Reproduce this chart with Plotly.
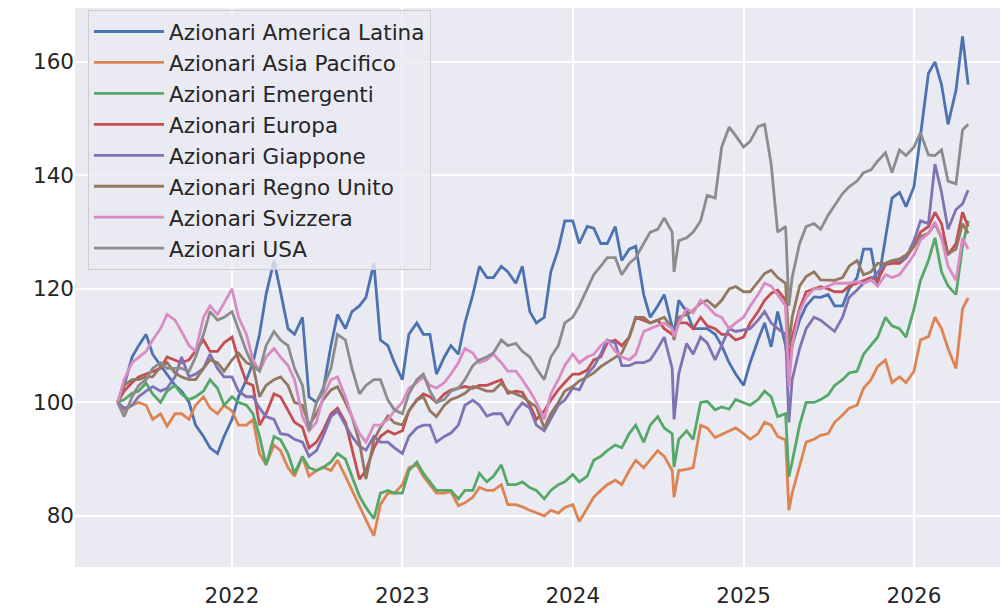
import pandas as pd
import plotly.graph_objects as go

# semi-monthly observation dates (+ two crash days and the last observation)
dates = sorted(
    list(pd.date_range("2021-05-01", "2026-04-15", freq="SMS"))
    + [pd.Timestamp("2024-08-05"), pd.Timestamp("2025-04-08"), pd.Timestamp("2026-04-27")]
)

latam = [
    100, 103, 108, 110, 112, 108.5, 106.5, 105, 103, 102, 100, 96, 94, 92, 91, 94,
    97, 101, 104, 107, 112, 119, 125, 119.5, 113, 112, 115, 101, 100, 102, 110, 115.5, 113, 116, 117, 118.5, 124.5, 111, 110, 107,
    104, 112, 114, 112, 112, 105, 108, 110, 108.5, 114, 119, 124, 122, 122, 124, 123, 121, 124, 116, 114, 115, 123, 127, 132,
    132, 128, 131, 130.7, 128, 128, 131, 125, 127, 127.5, 119, 115, 117, 119, 113, 112, 118, 116, 113, 113, 113, 112, 110, 107, 105,
    103, 107, 111, 114, 109.8, 116, 110, 105, 110, 114.5, 117, 118.6, 118.5, 119, 117, 117, 120, 122, 127, 127, 120.5, 129, 136, 137, 134.5,
    138, 147, 158, 160, 156, 149, 155, 164.5, 156,
]
asia = [
    100, 98.5, 99.5, 100, 99.5, 97, 98, 95.8, 98, 98, 97, 99.5, 101, 99, 98, 99.5,
    98.5, 96, 96, 97, 91, 89, 92.5, 91.5, 88.5, 87, 90.4, 87, 88, 88.6, 88, 89.8, 87, 84.5, 81.5, 79.3, 76.5, 82, 84, 84,
    85.5, 88.5, 89, 87, 85.5, 84, 84, 84.3, 81.8, 82.3, 83.3, 85, 84.5, 84.5, 85.5, 82, 82, 81.6, 81, 80.5, 80, 81, 80.5, 81.5,
    82, 79, 81.5, 83.3, 84.5, 85.5, 86.3, 85.5, 88, 89.8, 88.5, 90, 91.5, 90.5, 88, 83.3, 88, 88.2, 88.5, 96, 95.5, 93.8, 94.3, 95, 95.5,
    94.5, 93.5, 94.5, 96.5, 96, 94, 93.4, 81, 84, 89, 93, 93.5, 94.2, 94.5, 96.5, 97.8, 99, 99.5, 102.5, 104, 106.3, 107.5, 103.5, 104.5, 103.5,
    105.5, 111, 111.6, 115, 113, 109.5, 106, 116.5, 118.4,
]
emerging = [
    100, 100.5, 101.6, 102, 103.4, 101.5, 100, 102, 103, 101.5, 100.5, 101, 102, 104, 102.5, 99.5,
    101, 100, 99.5, 98, 94, 89, 94, 93.4, 91, 87.5, 90.5, 88.5, 88, 88.5, 89.5, 91, 90, 87, 83.5, 81.5, 79.5, 84, 84.5, 84,
    84, 88, 89.5, 87.5, 86, 84.5, 84.5, 84.5, 83, 84.5, 84.5, 87.5, 86, 87, 89, 85.5, 85.5, 86, 85, 84.5, 83, 84.5, 85.5, 86,
    87.3, 86, 87, 89.8, 90.5, 91.5, 92.5, 92, 94.5, 96, 93, 96, 97.5, 95.5, 94.5, 88.6, 93.5, 95, 93.5, 100, 100.2, 98.7, 99.2, 98.8, 100.5,
    100, 99.5, 100.5, 102, 101, 97.5, 98, 86.9, 89.5, 96, 100, 100, 100.5, 101.3, 103, 104, 105.2, 105.5, 108.5, 110, 111.5, 115, 113.5, 113, 111.5,
    116.5, 121.5, 125, 129, 123, 120.5, 119, 127.5, 132,
]
europe = [
    100, 102, 103.5, 104.5, 105, 105.5, 106, 108, 107.5, 107, 107.5, 109, 111, 109, 109, 110.5,
    111.5, 107.5, 103.5, 103, 96, 98, 101.5, 101, 98.5, 96.5, 95.6, 92, 93, 95, 98, 99, 96.5, 92, 86.5, 88, 92, 94, 95, 94.4,
    95, 98.5, 100.5, 101.5, 101, 100, 101.5, 102.2, 102.5, 102.8, 102.5, 103, 103, 103.5, 104, 101.6, 102, 101.8, 99.5, 97, 98.5, 100.4, 102.2, 103.5,
    105, 105, 105.7, 107.5, 108, 110.5, 111, 110, 111.5, 115, 114.5, 114, 114.5, 113, 112, 111.6, 114, 114, 113, 115, 113.5, 113, 112, 112, 111,
    111.5, 114, 116, 118, 119.2, 119.8, 118, 106.3, 111.5, 116.5, 119.5, 120, 120.4, 120, 119.5, 119.5, 120.5, 121, 121.5, 122, 121.5, 124.3, 124.5, 124.5, 125.5,
    127.5, 130, 131, 133.5, 131.5, 126, 128, 133.5, 131,
]
japan = [
    100, 99, 99.5, 101, 102, 102.8, 102, 102.5, 104.5, 108, 104.5, 105, 106, 108.5, 106, 104.5,
    104.5, 102, 101, 101, 99, 97.5, 97, 94.5, 94.3, 93.5, 93, 90.5, 91.5, 94, 97.5, 98.5, 96, 94, 92.3, 91.6, 94, 93, 93, 92,
    91, 94, 95.5, 96, 96, 93, 94, 94.6, 96, 99.5, 100.4, 99.5, 97.6, 98, 98, 96, 98.5, 99.9, 99, 96, 95, 97, 99.5, 100.4,
    102.5, 102.2, 105, 106.3, 108.5, 111, 110.5, 106.5, 106.5, 107, 107, 107.5, 109.5, 111.5, 106, 97, 105, 110.4, 108.5, 111.5, 110.5, 107.5, 110, 113, 112.5,
    112.8, 113, 114.5, 116, 114, 113, 112, 96.5, 104, 109.5, 113, 115, 114.5, 113.5, 112.5, 115, 118.5, 119.8, 121, 121.6, 123, 124.5, 125, 125, 125.5,
    128.5, 132, 131.5, 142, 137, 130.5, 134, 135, 137.4,
]
uk = [
    100, 103, 104, 104, 104.5, 104.5, 106.3, 107, 105.2, 104.5, 104, 104, 106, 107.5, 107, 105.5,
    107.5, 108.7, 107, 106.5, 101, 103, 104, 104.5, 103, 100, 99.5, 96, 98, 100.4, 102.2, 102.8, 100, 97.5, 93, 86.5, 93.4, 95.6, 97.6, 96.4,
    96, 98.5, 100.4, 101, 98.5, 97.5, 99.5, 100.5, 101, 101.6, 102.8, 102.5, 102, 102, 103.4, 102, 101.5, 101, 100, 99.2, 95.5, 98, 100, 102,
    102.8, 103.8, 104.5, 105.2, 106.3, 107, 108, 108.7, 111.5, 115, 115, 114, 114.5, 115, 113, 111, 115, 115.5, 116.2, 117.5, 118, 116.8, 118, 120, 120.4,
    119.5, 119.5, 121.3, 122.7, 123.3, 122, 121, 110, 115, 120.5, 122.2, 123, 121.6, 121.5, 121.5, 122, 124, 125, 122.5, 123, 124.5, 124.5, 125, 125.3, 126,
    127.5, 129.2, 129.8, 131.5, 129, 126.2, 127, 131.5, 129.8,
]
swiss = [
    100, 104, 107, 108, 109, 111, 113, 115.5, 114.5, 112.5, 110, 109, 115, 117, 115.5, 117.5,
    120, 115, 112, 107.5, 105.5, 108, 109.5, 108, 106.5, 104, 97.5, 95, 96.5, 101, 104, 104.5, 101, 97.5, 94.5, 93, 96, 96, 97, 98.5,
    100, 102.5, 103.5, 104.5, 103, 102.5, 103.5, 105, 107, 109.5, 108.7, 107, 107.5, 108.5, 107, 105.5, 105.5, 104, 102, 100, 97, 101.5, 104, 106.5,
    108.5, 107, 108, 108.5, 110, 111, 109, 108, 107.5, 108.5, 112.5, 113, 113.5, 114, 113, 111.6, 114, 116.5, 115.8, 118, 117, 115.5, 115, 113, 114,
    115, 117, 119, 121, 120.5, 119, 117, 102.8, 110, 116, 118.5, 120, 120, 120.5, 121, 121, 121, 121.3, 121, 121.6, 120.5, 122.5, 122, 122.5, 124,
    126, 128.6, 129.8, 131.8, 129, 124, 121.5, 129, 127,
]
usa = [
    100, 97.5, 101, 103, 104, 106, 107, 106, 106, 106, 105.5, 108, 112, 116, 114.5, 115,
    116, 113, 109, 106.5, 105.5, 110, 112.5, 111, 110, 106, 103, 95, 100, 102.5, 106, 112, 111, 106, 101.5, 103, 104, 104, 100.4, 98.7,
    98, 101.5, 104, 105, 102, 100, 100.5, 102, 102.5, 104, 106.5, 107.5, 108, 108.7, 111, 110, 110.4, 109, 108, 106, 104, 108, 110, 114,
    115, 117, 120, 122.5, 124, 125.5, 125.5, 122.5, 124.5, 125.5, 128, 130, 130.5, 132.5, 130, 123, 128.5, 129, 130, 132, 136.5, 136, 145, 148.5, 147,
    145, 146, 148.6, 149, 142, 130, 131, 117, 122, 128, 131, 131.5, 130.5, 133, 134.8, 136.8, 138, 139, 140.5, 141, 142.5, 144, 140.5, 144.5, 143.5,
    145, 147.5, 143.6, 143.5, 144.5, 139, 138.5, 148, 149,
]

names = [
    "Azionari America Latina", "Azionari Asia Pacifico", "Azionari Emergenti",
    "Azionari Europa", "Azionari Giappone", "Azionari Regno Unito",
    "Azionari Svizzera", "Azionari USA",
]
series = [latam, asia, emerging, europe, japan, uk, swiss, usa]
colors = ["#4C72B0", "#DD8452", "#55A868", "#C44E52", "#8172B3", "#937860", "#DA8BC3", "#8C8C8C"]

year_ticks = ["2022-01-01", "2023-01-01", "2024-01-01", "2025-01-01", "2026-01-01"]
year_labels = ["2022", "2023", "2024", "2025", "2026"]
y_ticks = [80, 100, 120, 140, 160]

fig = go.Figure()
for name, vals, col in zip(names, series, colors):
    assert len(vals) == len(dates), (name, len(vals), len(dates))
    fig.add_trace(go.Scatter(
        x=dates, y=vals, mode="lines", name=name, legendgroup=name,
        line=dict(color=col, width=2.8),
    ))

FONT = "DejaVu Sans, Arial, sans-serif"
fig.update_layout(
    width=1000, height=600,
    margin=dict(l=67, r=0, t=0, b=41),
    paper_bgcolor="white", plot_bgcolor="#EAEAF2",
    font=dict(family=FONT, size=21.5, color="#262626"),
    showlegend=True,
    legend=dict(
        x=0.0139, y=0.9964, xanchor="left", yanchor="top",
        bgcolor="rgba(234,234,242,0.8)", bordercolor="#CCCCCC", borderwidth=1,
        font=dict(family=FONT, size=21.5, color="#262626"),
        itemwidth=70, tracegroupgap=0,
    ),
    xaxis=dict(
        type="date", range=["2021-01-29 17:00", "2026-07-21 10:00"],
        tickvals=year_ticks, ticktext=year_labels,
        showgrid=True, gridcolor="white", gridwidth=2,
        zeroline=False, showline=False, ticks="",
        tickfont=dict(family=FONT, size=21.5, color="#262626"),
        ticklabelstandoff=13,
    ),
    yaxis=dict(
        range=[71, 169.5], tickvals=y_ticks,
        showgrid=True, gridcolor="white", gridwidth=2,
        zeroline=False, showline=False, ticks="",
        tickfont=dict(family=FONT, size=21.5, color="#262626"),
    ),
)

fig.write_html("out.html")
